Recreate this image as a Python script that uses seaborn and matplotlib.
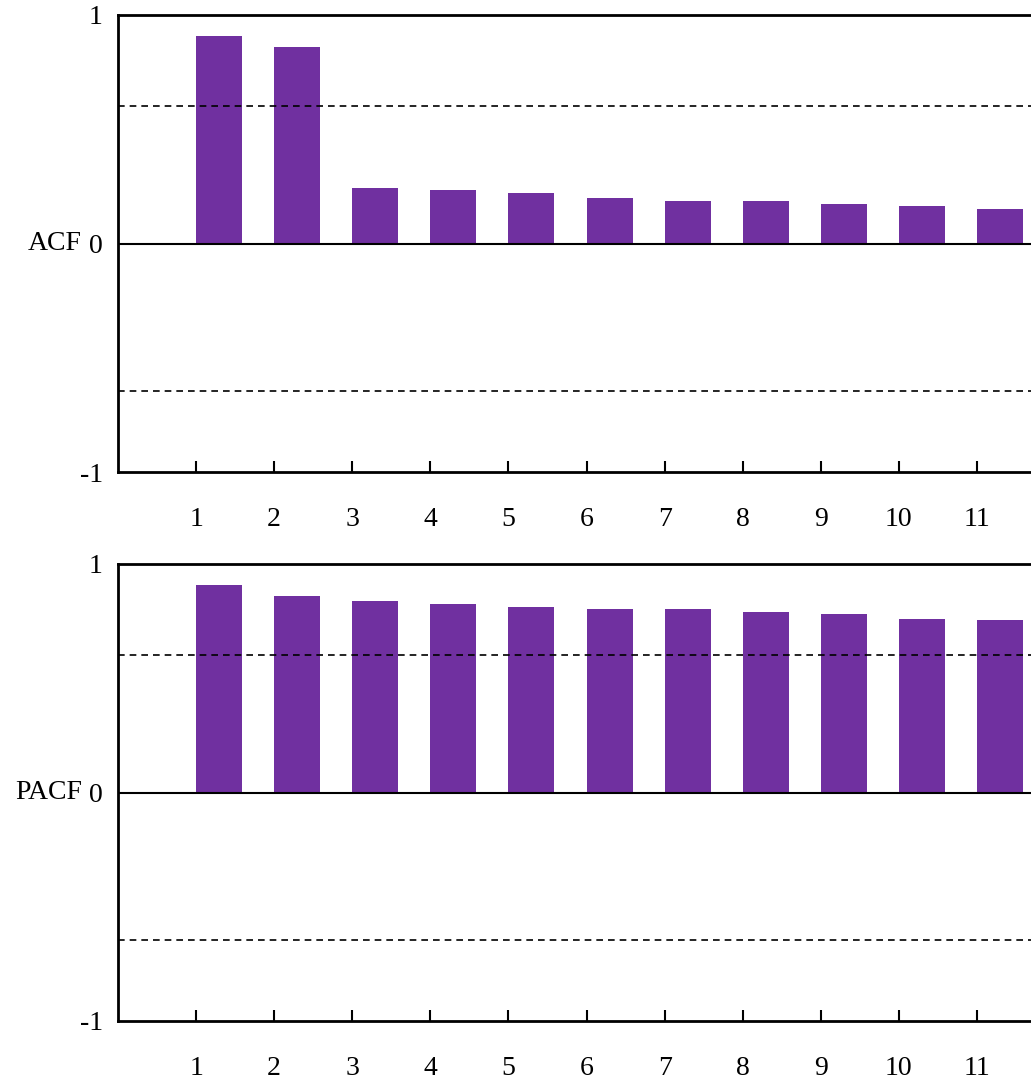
import numpy as np
import pandas as pd
import matplotlib
matplotlib.use("Agg")
import matplotlib.pyplot as plt
import seaborn as sns

# Autocorrelation results, lags 1..11
lags = [1, 2, 3, 4, 5, 6, 7, 8, 9, 10, 11]
acf_vals = [0.906, 0.862, 0.245, 0.232, 0.223, 0.201, 0.188, 0.184, 0.175, 0.166, 0.149]
pacf_vals = [0.906, 0.862, 0.840, 0.823, 0.814, 0.805, 0.805, 0.792, 0.783, 0.761, 0.753]
conf_upper = 0.603
conf_lower = -0.647
y_ticks = [-1, 0, 1]
y_tick_labels = ["-1", "0", "1"]

BAR_COLOR = "#7030A0"
BAR_WIDTH = 0.59

sns.set_style("white", {"text.color": "black", "xtick.color": "black",
                        "ytick.color": "black", "axes.edgecolor": "black",
                        "xtick.bottom": True})
plt.rcParams["font.family"] = ["Liberation Serif", "DejaVu Serif"]
plt.rcParams["font.size"] = 20

fig = plt.figure(figsize=(10.31, 10.79), dpi=100)
W, H = 1031, 1079
left = 118 / W
width = (1055 - 118) / W
ax_top = fig.add_axes([left, 1 - 472 / H, width, (472 - 15) / H])
ax_bot = fig.add_axes([left, 1 - 1021 / H, width, (1021 - 564) / H])


def draw_panel(ax, values, name):
    df = pd.DataFrame({"lag": lags, "value": values})
    # bars start at the lag tick and extend to the right
    df["pos"] = df["lag"] + BAR_WIDTH / 2
    sns.barplot(data=df, x="pos", y="value", native_scale=True, width=BAR_WIDTH,
                color=BAR_COLOR, saturation=1, edgecolor="none", linewidth=0, ax=ax)
    ax.axhline(0, color="black", lw=1.5, zorder=3)
    ax.axhline(conf_upper, color="black", lw=1.2, ls=(0, (4, 3)), zorder=1)
    ax.axhline(conf_lower, color="black", lw=1.2, ls=(0, (4, 3)), zorder=1)
    ax.set_xlim(0, 12)
    ax.set_ylim(-1, 1)
    ax.set_xticks(lags)
    ax.set_xticklabels([str(v) for v in lags])
    ax.set_yticks(y_ticks)
    ax.set_yticklabels(y_tick_labels)
    ax.tick_params(axis="x", bottom=True, top=False, direction="in", length=8,
                   width=1.5, color="black", pad=25, labelsize=20, labelcolor="black")
    ax.tick_params(axis="y", left=True, length=0, pad=11, labelsize=20, labelcolor="black")
    ax.set_xlabel("")
    ax.set_ylabel("")
    for side in ["left", "bottom", "top"]:
        ax.spines[side].set_linewidth(2.0)
        ax.spines[side].set_color("black")
    ax.spines["right"].set_visible(False)
    ax.text(-0.0385, 0, name, transform=ax.get_yaxis_transform(),
            ha="right", va="center", fontsize=20, color="black")


draw_panel(ax_top, acf_vals, "ACF")
draw_panel(ax_bot, pacf_vals, "PACF")

fig.savefig("out.png", dpi=100)
